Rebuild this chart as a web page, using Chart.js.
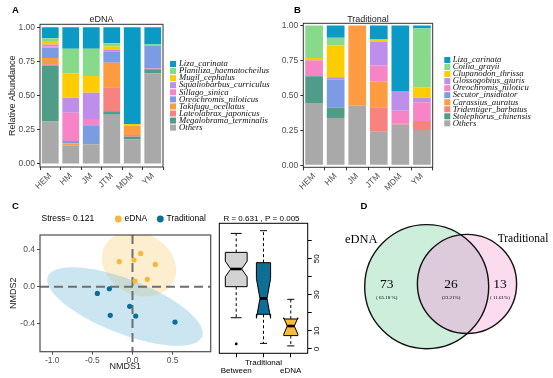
<!DOCTYPE html>
<html>
<head>
<meta charset="utf-8">
<script src="https://cdn.jsdelivr.net/npm/chart.js@4.4.0/dist/chart.umd.min.js"></script>
<style>
  html, body { margin: 0; padding: 0; background: #fff; }
  #page { position: relative; width: 553px; height: 378px; overflow: hidden; }
  canvas { position: absolute; }
</style>
</head>
<body>
<div id="page">
  <canvas id="barA" width="276" height="192" style="left:0;top:0"></canvas>
  <canvas id="barB" width="277" height="192" style="left:276px;top:0"></canvas>
  <canvas id="nmds" width="215" height="186" style="left:0;top:192px"></canvas>
  <canvas id="anosim" width="118" height="186" style="left:215px;top:192px"></canvas>
  <canvas id="venn" width="220" height="186" style="left:333px;top:192px"></canvas>
</div>
<script>
// ---------- data ----------
const sites = ["HEM", "HM", "JM", "JTM", "MDM", "YM"];
const shareTicks = [0, 0.25, 0.5, 0.75, 1];

// A: eDNA relative abundance, species listed bottom -> top of each stack
const ednaSpecies = ["Others", "Megalobrama_terminalis", "Lateolabrax_japonicus", "Takifugu_ocellatus",
  "Oreochromis_niloticus", "Sillago_sinica", "Squaliobarbus_curriculus", "Mugil_cephalus",
  "Planiliza_haematocheilus", "Liza_carinata"];
const ednaShares = [
  [0.310, 0.137, 0.144, 0.361, 0.180, 0.663],
  [0.410, 0.000, 0.007, 0.024, 0.020, 0.030],
  [0.010, 0.000, 0.000, 0.176, 0.012, 0.005],
  [0.045, 0.015, 0.000, 0.180, 0.068, 0.000],
  [0.075, 0.017, 0.132, 0.081, 0.000, 0.165],
  [0.010, 0.206, 0.047, 0.000, 0.000, 0.000],
  [0.015, 0.110, 0.192, 0.012, 0.000, 0.000],
  [0.025, 0.178, 0.122, 0.025, 0.013, 0.000],
  [0.020, 0.181, 0.200, 0.024, 0.000, 0.012],
  [0.080, 0.156, 0.156, 0.117, 0.707, 0.125]
];

// B: traditional survey relative abundance, bottom -> top
const tradSpecies = ["Others", "Stolephorus_chinensis", "Tridentiger_barbatus", "Carassius_auratus",
  "Secutor_insidiator", "Oreochromis_niloticu", "Glossogobius_giuris", "Clupanodon_thrissa",
  "Coilia_grayii", "Liza_carinata"];
const tradShares = [
  [0.445, 0.337, 0.426, 0.239, 0.289, 0.251],
  [0.191, 0.074, 0.000, 0.000, 0.000, 0.000],
  [0.000, 0.000, 0.000, 0.175, 0.008, 0.065],
  [0.000, 0.000, 0.574, 0.184, 0.000, 0.000],
  [0.000, 0.201, 0.000, 0.000, 0.000, 0.000],
  [0.115, 0.000, 0.000, 0.115, 0.093, 0.134],
  [0.000, 0.017, 0.000, 0.172, 0.141, 0.033],
  [0.015, 0.227, 0.000, 0.015, 0.000, 0.074],
  [0.234, 0.055, 0.000, 0.000, 0.000, 0.423],
  [0.000, 0.089, 0.000, 0.100, 0.469, 0.020]
];

// C: NMDS site scores
const ednaX = [-0.164, 0.019, 0.102, 0.285, 0.185, 0.031];
const ednaY = [0.269, 0.287, 0.358, 0.240, 0.079, 0.061];
const tradX = [-0.438, -0.289, -0.035, 0.040, -0.277, 0.530];
const tradY = [-0.072, -0.022, -0.211, -0.315, -0.308, -0.380];
const nmdsXTicks = [-1, -0.5, 0, 0.5];
const nmdsYTicks = [-0.4, 0, 0.4];
// 95% ellipses: centre and two conjugate semi-axes, in NMDS units
const ellipseCentre = [[0.081, 0.244], [-0.094, -0.213]];
const ellipseAxisA = [[0.431, -0.188], [0.961, -0.323]];
const ellipseAxisB = [[-0.173, -0.295], [-0.123, -0.272]];

// C: ANOSIM rank dissimilarities
const boxGroups = ["Between", "Traditional", "eDNA"];
const boxLow = [17.3, 3.1, 1.7];
const boxQ1 = [34.5, 19.2, 7.4];
const boxMed = [44.3, 28.0, 12.7];
const boxQ3 = [53.5, 47.8, 16.6];
const boxHigh = [64.0, 65.5, 27.5];
const boxNotch = [4.3, 11.0, 4.6];
const boxOutliers = [{ x: 1, y: 2.8 }];
const boxYTicks = [0, 10, 20, 30, 40, 50, 60];
const boxYLabels = [0, 10, 30, 50];

// D: species shared between methods
const vennSets = ["eDNA", "Traditional"];
const vennCounts = [73, 26, 13];
const vennShares = ["( 65.18 %)", "(23.21%)", "( 11.61%)"];

// ---------- style ----------
const PALETTE = ["#A9A9A9", "#4F9C89", "#F7827E", "#FF9B40", "#7B9BE3",
                 "#F784C6", "#BE8EEB", "#FFCC00", "#86DA89", "#0B9AC5"];
const SANS = "'Liberation Sans', Arial, sans-serif";
const SERIF = "'Liberation Serif', 'Times New Roman', serif";
Chart.defaults.font.family = SANS;

// ---------- plugins ----------
const frame = {
  id: "frame",
  afterDatasetsDraw(chart, args, o) {
    const { ctx, chartArea: a } = chart;
    ctx.save();
    ctx.strokeStyle = o.color;
    ctx.lineWidth = o.width;
    ctx.strokeRect(a.left, a.top, a.right - a.left, a.bottom - a.top);
    ctx.restore();
  }
};

// free text / legend dots; coordinates are canvas pixels unless inData
const notes = {
  id: "notes",
  afterDraw(chart, args, o) {
    const { ctx, scales } = chart;
    (o.items || []).forEach((it) => {
      const x = it.inData ? scales.x.getPixelForValue(it.x) : it.x;
      const y = it.inData ? scales.y.getPixelForValue(it.y) : it.y;
      ctx.save();
      if (it.dot) {
        ctx.fillStyle = it.dot;
        ctx.beginPath();
        ctx.arc(x, y, it.r, 0, Math.PI * 2);
        ctx.fill();
      } else {
        ctx.font = it.f;
        ctx.fillStyle = it.color || "#000";
        ctx.textAlign = it.align || "left";
        ctx.textBaseline = "middle";
        ctx.fillText(it.text, x, y);
      }
      ctx.restore();
    });
  }
};

// ggplot-style legend to the right of the panel, top of stack listed first
const sideLegend = {
  id: "sideLegend",
  afterDraw(chart, args, o) {
    const { ctx, chartArea } = chart;
    const x0 = chartArea.right + o.gap;
    chart.data.datasets.slice().reverse().forEach((ds, i) => {
      const y = o.top + i * o.step;
      ctx.save();
      ctx.fillStyle = ds.backgroundColor;
      ctx.fillRect(x0, y - o.box / 2, o.box, o.box);
      ctx.font = o.f;
      ctx.fillStyle = "#111";
      ctx.textBaseline = "middle";
      ctx.fillText(ds.label, x0 + o.textGap, y);
      ctx.restore();
    });
  }
};

const ellipses = {
  id: "ellipses",
  beforeDatasetsDraw(chart, args, o) {
    const { ctx, chartArea: a, scales: { x, y } } = chart;
    ctx.save();
    ctx.beginPath();
    ctx.rect(a.left, a.top, a.right - a.left, a.bottom - a.top);
    ctx.clip();
    ellipseCentre.forEach((c, k) => {
      const A = ellipseAxisA[k], B = ellipseAxisB[k];
      ctx.beginPath();
      for (let s = 0; s <= 120; s++) {
        const t = (s / 120) * Math.PI * 2;
        const px = x.getPixelForValue(c[0] + A[0] * Math.cos(t) + B[0] * Math.sin(t));
        const py = y.getPixelForValue(c[1] + A[1] * Math.cos(t) + B[1] * Math.sin(t));
        s ? ctx.lineTo(px, py) : ctx.moveTo(px, py);
      }
      ctx.closePath();
      ctx.fillStyle = o.fills[k];
      ctx.fill();
    });
    ctx.restore();
  }
};

const zeroLines = {
  id: "zeroLines",
  beforeDatasetsDraw(chart, args, o) {
    const { ctx, chartArea: a, scales: { x, y } } = chart;
    ctx.save();
    ctx.strokeStyle = o.color;
    ctx.lineWidth = o.width;
    ctx.setLineDash(o.dash);
    ctx.beginPath();
    ctx.moveTo(x.getPixelForValue(0), a.top);
    ctx.lineTo(x.getPixelForValue(0), a.bottom);
    ctx.moveTo(a.left, y.getPixelForValue(0));
    ctx.lineTo(a.right, y.getPixelForValue(0));
    ctx.stroke();
    ctx.restore();
  }
};

// notched boxplot in the style of R's boxplot(notch = TRUE)
const notchedBoxes = {
  id: "notchedBoxes",
  beforeDatasetsDraw(chart, args, o) {
    const { ctx, scales: { x, y } } = chart;
    const X = (v) => x.getPixelForValue(v), Y = (v) => y.getPixelForValue(v);
    boxGroups.forEach((g, i) => {
      const p = i + 1, hw = o.half[i], nw = hw * 0.5, cap = hw * 0.5;
      const lo = boxMed[i] - boxNotch[i], hi = boxMed[i] + boxNotch[i];
      ctx.save();
      ctx.strokeStyle = "#000";
      ctx.lineWidth = 1;
      ctx.setLineDash([3, 2.5]);
      ctx.beginPath();
      ctx.moveTo(X(p), Y(boxQ3[i])); ctx.lineTo(X(p), Y(boxHigh[i]));
      ctx.moveTo(X(p), Y(boxQ1[i])); ctx.lineTo(X(p), Y(boxLow[i]));
      ctx.stroke();
      ctx.setLineDash([]);
      ctx.beginPath();
      ctx.moveTo(X(p - cap), Y(boxHigh[i])); ctx.lineTo(X(p + cap), Y(boxHigh[i]));
      ctx.moveTo(X(p - cap), Y(boxLow[i])); ctx.lineTo(X(p + cap), Y(boxLow[i]));
      ctx.stroke();
      ctx.beginPath();
      ctx.moveTo(X(p - hw), Y(boxQ1[i]));
      ctx.lineTo(X(p - hw), Y(lo));
      ctx.lineTo(X(p - nw), Y(boxMed[i]));
      ctx.lineTo(X(p - hw), Y(hi));
      ctx.lineTo(X(p - hw), Y(boxQ3[i]));
      ctx.lineTo(X(p + hw), Y(boxQ3[i]));
      ctx.lineTo(X(p + hw), Y(hi));
      ctx.lineTo(X(p + nw), Y(boxMed[i]));
      ctx.lineTo(X(p + hw), Y(lo));
      ctx.lineTo(X(p + hw), Y(boxQ1[i]));
      ctx.closePath();
      ctx.fillStyle = o.colors[i];
      ctx.fill();
      ctx.stroke();
      ctx.lineWidth = 2.6;
      ctx.beginPath();
      ctx.moveTo(X(p - nw), Y(boxMed[i])); ctx.lineTo(X(p + nw), Y(boxMed[i]));
      ctx.stroke();
      ctx.restore();
    });
  }
};

const vennCircles = {
  id: "vennCircles",
  beforeDatasetsDraw(chart, args, o) {
    const { ctx, scales: { x, y } } = chart;
    const circ = chart.data.datasets.map((ds, i) => {
      const c = ds.data[0];
      return {
        cx: x.getPixelForValue(c.x),
        cy: y.getPixelForValue(c.y),
        r: x.getPixelForValue(c.x + o.radius[i]) - x.getPixelForValue(c.x)
      };
    });
    const path = (c) => { ctx.beginPath(); ctx.arc(c.cx, c.cy, c.r, 0, Math.PI * 2); };
    ctx.save();
    circ.forEach((c, i) => { path(c); ctx.fillStyle = o.fills[i]; ctx.fill(); });
    path(circ[0]);
    ctx.clip();
    path(circ[1]);
    ctx.fillStyle = o.overlap;
    ctx.fill();
    ctx.restore();
    ctx.save();
    ctx.strokeStyle = "#111";
    ctx.lineWidth = 1.4;
    circ.forEach((c) => { path(c); ctx.stroke(); });
    ctx.restore();
  }
};

const base = { responsive: false, animation: false, events: [] };

// ---------- A & B: stacked bars ----------
function stackedPanel(id, species, shares, o) {
  return new Chart(document.getElementById(id), {
    type: "bar",
    data: {
      labels: sites,
      datasets: species.map((name, i) => ({
        label: name,
        data: shares[i],
        backgroundColor: PALETTE[i],
        barPercentage: 0.82,
        categoryPercentage: 1
      }))
    },
    options: {
      ...base,
      layout: { padding: o.pad },
      plugins: {
        legend: { display: false },
        tooltip: { enabled: false },
        frame: { color: "#333", width: 1 },
        sideLegend: o.legend,
        notes: { items: o.notes }
      },
      scales: {
        x: {
          stacked: true,
          grid: { drawOnChartArea: false, tickLength: 3, color: "#333" },
          border: { display: false },
          ticks: { autoSkip: false, minRotation: 45, maxRotation: 45, padding: 1,
                   color: "#4d4d4d", font: { size: 8.5 } },
          afterFit: (s) => { s.height = o.xHeight; }
        },
        y: {
          stacked: true,
          min: o.yMin,
          max: o.yMax,
          afterBuildTicks: (s) => { s.ticks = shareTicks.map((v) => ({ value: v })); },
          grid: { drawOnChartArea: false, tickLength: 3, color: "#333" },
          border: { display: false },
          ticks: { padding: 2, color: "#4d4d4d", font: { size: 8.5 }, callback: (v) => v.toFixed(2) },
          title: o.yTitle,
          afterFit: (s) => { s.width = o.yWidth; }
        }
      }
    },
    plugins: [frame, sideLegend, notes]
  });
}

const legendFont = "italic 8.7px " + SERIF;

stackedPanel("barA", ednaSpecies, ednaShares, {
  pad: { left: 0, top: 24.3, right: 113, bottom: 0 },
  xHeight: 25, yWidth: 40, yMin: -0.022, yMax: 1.022,
  yTitle: { display: true, text: "Relative Abundance", color: "#1a1a1a",
            font: { size: 9 }, padding: { top: 6.8, bottom: 0 } },
  legend: { gap: 7, box: 6, textGap: 9, top: 64, step: 7.07, f: legendFont },
  notes: [
    { text: "A", x: 12, y: 10, f: "bold 9.5px " + SANS },
    { text: "eDNA", x: 101.5, y: 19.5, align: "center", f: "9px " + SANS, color: "#1a1a1a" }
  ]
});

stackedPanel("barB", tradSpecies, tradShares, {
  pad: { left: 0, top: 23.3, right: 120.3, bottom: 0 },
  xHeight: 24.7, yWidth: 27.3, yMin: -0.015, yMax: 1.015,
  yTitle: { display: false },
  legend: { gap: 11.6, box: 6, textGap: 8.4, top: 60, step: 7.04, f: legendFont },
  notes: [
    { text: "B", x: 18, y: 10, f: "bold 9.5px " + SANS },
    { text: "Traditional", x: 92, y: 19.5, align: "center", f: "9px " + SANS, color: "#1a1a1a" }
  ]
});

// ---------- C: NMDS ordination ----------
new Chart(document.getElementById("nmds"), {
  type: "scatter",
  data: {
    datasets: [
      { label: "eDNA", data: ednaX.map((x, i) => ({ x, y: ednaY[i] })),
        backgroundColor: "#F6B83A", pointRadius: 2.6, borderWidth: 0 },
      { label: "Traditional", data: tradX.map((x, i) => ({ x, y: tradY[i] })),
        backgroundColor: "#0B6E99", pointRadius: 2.6, borderWidth: 0 }
    ]
  },
  options: {
    ...base,
    layout: { padding: { left: 0, top: 43, right: 4.3, bottom: 0 } },
    plugins: {
      legend: { display: false },
      tooltip: { enabled: false },
      frame: { color: "#4d4d4d", width: 1.2 },
      ellipses: { fills: ["rgba(251, 214, 140, 0.42)", "rgba(110, 185, 215, 0.36)"] },
      zeroLines: { color: "#6f6f6f", width: 2, dash: [9, 5] },
      notes: { items: [
        { text: "C", x: 12, y: 14, f: "bold 9.5px " + SANS },
        { text: "Stress= 0.121", x: 41.5, y: 27, f: "8.5px " + SANS },
        { dot: "#F6B83A", x: 118.3, y: 27, r: 3.4 },
        { text: "eDNA", x: 124.5, y: 27, f: "8.5px " + SANS },
        { dot: "#0B6E99", x: 160.3, y: 27, r: 3.4 },
        { text: "Traditional", x: 166.5, y: 27, f: "8.5px " + SANS }
      ] }
    },
    scales: {
      x: {
        min: -1.153, max: 0.975,
        afterBuildTicks: (s) => { s.ticks = nmdsXTicks.map((v) => ({ value: v })); },
        grid: { drawOnChartArea: false, tickLength: 3, color: "#4d4d4d" },
        border: { display: false },
        ticks: { padding: 1, color: "#4d4d4d", font: { size: 8.5 }, callback: (v) => v.toFixed(1) },
        title: { display: true, text: "NMDS1", color: "#1a1a1a", font: { size: 9 }, padding: { top: 0, bottom: 6 } },
        afterFit: (s) => { s.height = 26.3; }
      },
      y: {
        min: -0.699, max: 0.556,
        afterBuildTicks: (s) => { s.ticks = nmdsYTicks.map((v) => ({ value: v })); },
        grid: { drawOnChartArea: false, tickLength: 3, color: "#4d4d4d" },
        border: { display: false },
        ticks: { padding: 2, color: "#4d4d4d", font: { size: 8.5 }, callback: (v) => v.toFixed(1) },
        title: { display: true, text: "NMDS2", color: "#1a1a1a", font: { size: 9 }, padding: { top: 7.9, bottom: 0 } },
        afterFit: (s) => { s.width = 40; }
      }
    }
  },
  plugins: [ellipses, zeroLines, frame, notes]
});

// ---------- C: ANOSIM boxplot ----------
new Chart(document.getElementById("anosim"), {
  type: "scatter",
  data: {
    datasets: [{ label: "outliers", data: boxOutliers, backgroundColor: "#000", pointRadius: 1.4, borderWidth: 0 }]
  },
  options: {
    ...base,
    layout: { padding: { left: 4.3, top: 31.3, right: 0, bottom: 0 } },
    plugins: {
      legend: { display: false },
      tooltip: { enabled: false },
      frame: { color: "#000", width: 1 },
      notchedBoxes: { half: [0.4, 0.26, 0.26], colors: ["#D3D3D3", "#0E6E96", "#F8BC3A"] },
      notes: { items: [
        { text: "R = 0.631 , P = 0.005", x: 46.5, y: 27, align: "center", f: "8px " + SANS }
      ] }
    },
    scales: {
      x: {
        type: "linear",
        min: 0.38, max: 3.62,
        afterBuildTicks: (s) => { s.ticks = boxGroups.map((g, i) => ({ value: i + 1 })); },
        grid: { drawOnChartArea: false, tickLength: 4, color: "#000" },
        border: { display: false },
        ticks: {
          minRotation: 0, maxRotation: 0, autoSkip: false,
          padding: 1, color: "#000", font: { size: 8, lineHeight: 1.05 },
          callback: (v) => (v % 2 === 1 ? ["", boxGroups[v - 1]] : boxGroups[v - 1])
        },
        afterFit: (s) => { s.height = 24.7; }
      },
      y: {
        position: "right",
        min: -2.4, max: 69.6,
        afterBuildTicks: (s) => { s.ticks = boxYTicks.map((v) => ({ value: v })); },
        grid: { drawOnChartArea: false, tickLength: 4, color: "#000" },
        border: { display: false },
        ticks: {
          minRotation: 90, maxRotation: 90, crossAlign: "center", padding: 1,
          color: "#000", font: { size: 8 },
          callback: (v) => (boxYLabels.includes(v) ? String(v) : "")
        },
        afterFit: (s) => { s.width = 25.3; }
      }
    }
  },
  plugins: [notchedBoxes, frame, notes]
});

// ---------- D: Venn diagram ----------
new Chart(document.getElementById("venn"), {
  type: "scatter",
  data: {
    datasets: vennSets.map((name, i) => ({
      label: name,
      data: [[{ x: 0, y: 0 }], [{ x: 0.65, y: 0.044 }]][i],
      pointRadius: 0
    }))
  },
  options: {
    ...base,
    layout: { padding: 0 },
    plugins: {
      legend: { display: false },
      tooltip: { enabled: false },
      vennCircles: { radius: [1.0, 0.8], fills: ["#CDEEDB", "#FBDCEF"], overlap: "#DDCADB" },
      notes: { items: [
        { text: "D", x: 27.5, y: 14, f: "bold 9.5px " + SANS },
        { text: vennSets[0], x: -1.055, y: 0.753, inData: true, align: "center", f: "12.5px " + SERIF },
        { text: vennSets[1], x: 1.553, y: 0.777, inData: true, align: "center", f: "11.5px " + SERIF },
        { text: String(vennCounts[0]), x: -0.645, y: 0.03, inData: true, align: "center", f: "13.5px " + SERIF },
        { text: String(vennCounts[1]), x: 0.392, y: 0.03, inData: true, align: "center", f: "13.5px " + SERIF },
        { text: String(vennCounts[2]), x: 1.182, y: 0.03, inData: true, align: "center", f: "13.5px " + SERIF },
        { text: vennShares[0], x: -0.645, y: -0.18, inData: true, align: "center", f: "5px " + SERIF },
        { text: vennShares[1], x: 0.392, y: -0.18, inData: true, align: "center", f: "5px " + SERIF },
        { text: vennShares[2], x: 1.182, y: -0.18, inData: true, align: "center", f: "5px " + SERIF }
      ] }
    },
    scales: {
      x: { display: false, min: -1.511, max: 2.037 },
      y: { display: false, min: -1.473, max: 1.527 }
    }
  },
  plugins: [vennCircles, notes]
});
</script>
</body>
</html>
